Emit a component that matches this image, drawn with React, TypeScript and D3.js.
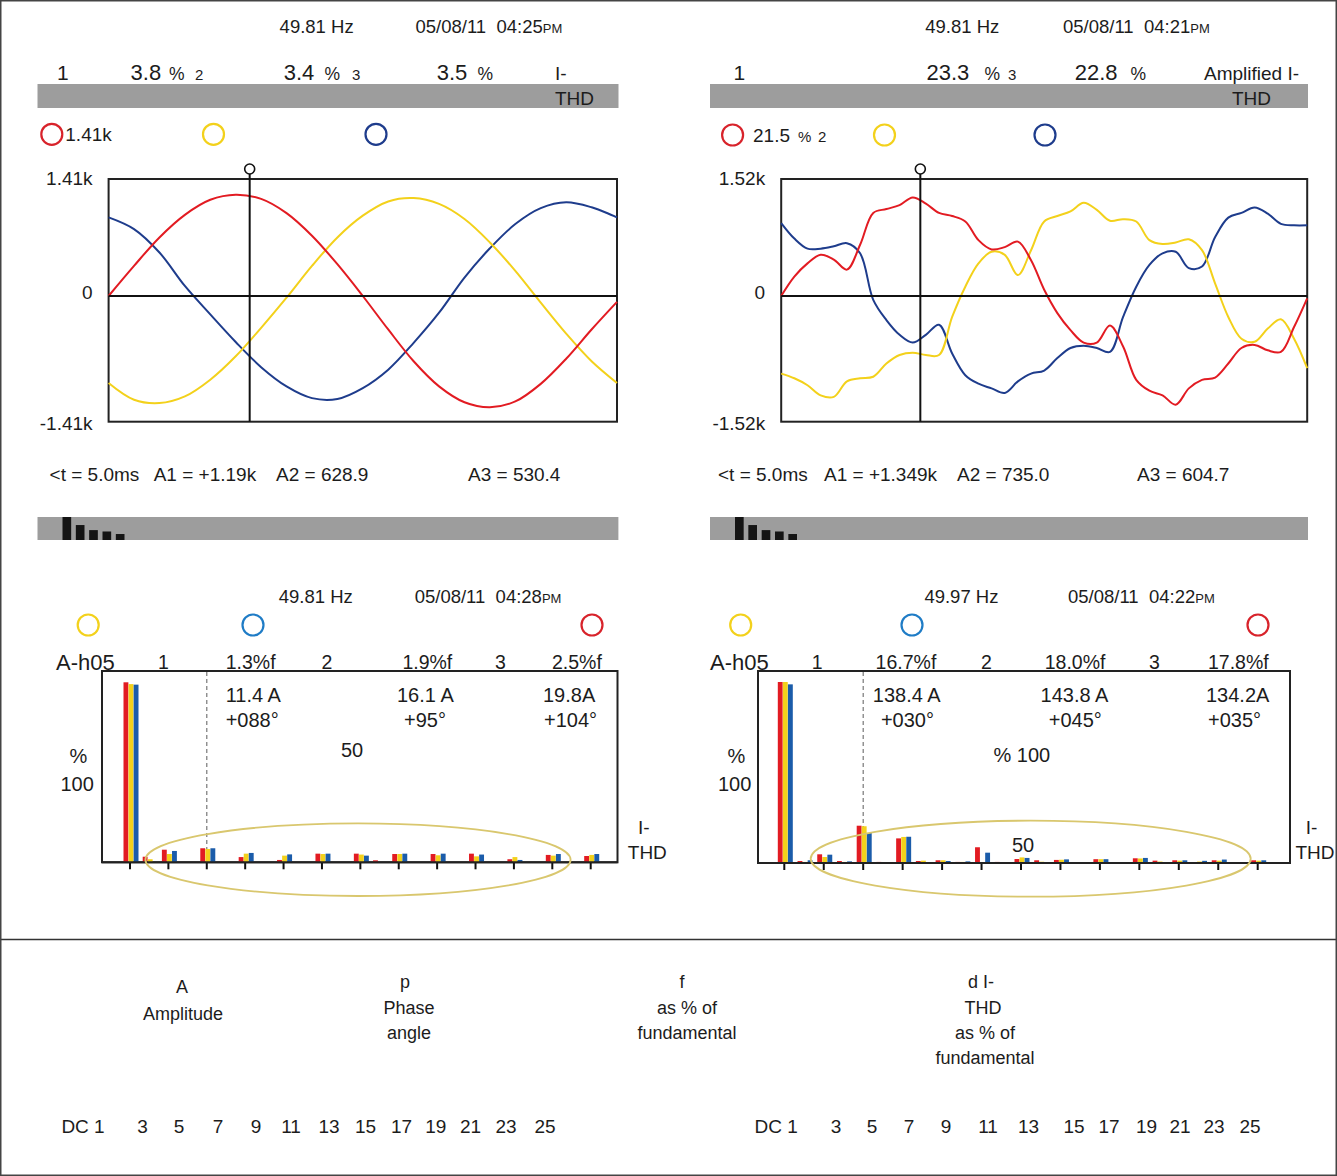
import * as d3 from "d3";
import { useEffect, useRef } from "react";

const FONT = "'Liberation Sans', Arial, Helvetica, sans-serif";

const RED = "#e21b22";
const YELLOW = "#f3d11b";
const NAVY = "#1e3c8c";
const BLUE = "#1b5caa";
const SKY = "#1f7cc6";
const RING_RED = "#d8232b";
const GRAY = "#9d9d9d";
const INK = "#1c1c1c";

// ---- scope A (clean supply), kA, one sample per ms over one 20 ms cycle
const timesA = [0, 1, 2, 3, 4, 5, 6, 7, 8, 9, 10, 11, 12, 13, 14, 15, 16, 17, 18, 19, 20];
const scopeARed = [0, 0.36, 0.7, 0.97, 1.15, 1.21, 1.16, 0.99, 0.72, 0.38, 0.0, -0.4, -0.78, -1.08, -1.27, -1.33, -1.26, -1.05, -0.75, -0.4, -0.07];
const scopeAYellow = [-1.04, -1.24, -1.28, -1.2, -1.0, -0.72, -0.38, -0.02, 0.36, 0.7, 0.96, 1.13, 1.17, 1.1, 0.92, 0.64, 0.3, -0.08, -0.45, -0.78, -1.04];
const scopeABlue = [0.94, 0.8, 0.52, 0.12, -0.22, -0.55, -0.85, -1.08, -1.22, -1.23, -1.1, -0.88, -0.56, -0.2, 0.22, 0.57, 0.86, 1.05, 1.12, 1.06, 0.94];

// ---- scope B (distorted supply), kA, one sample per 0.5 ms
const timesB = [0, 0.5, 1, 1.5, 2, 2.5, 3, 3.5, 4, 4.5, 5, 5.5, 6, 6.5, 7, 7.5, 8, 8.5, 9, 9.5, 10, 10.5, 11, 11.5, 12, 12.5, 13, 13.5, 14, 14.5, 15, 15.5, 16, 16.5, 17, 17.5, 18, 18.5, 19, 19.5, 20];
const scopeBRed = [0, 0.25, 0.42, 0.53, 0.47, 0.34, 0.66, 1.07, 1.12, 1.17, 1.27, 1.19, 1.07, 1.03, 0.96, 0.72, 0.6, 0.63, 0.7, 0.46, 0.08, -0.22, -0.44, -0.6, -0.6, -0.38, -0.65, -1.08, -1.22, -1.28, -1.4, -1.19, -1.08, -1.05, -0.87, -0.67, -0.63, -0.7, -0.72, -0.4, -0.03];
const scopeBYellow = [-1.0, -1.06, -1.15, -1.28, -1.3, -1.1, -1.06, -1.04, -0.87, -0.76, -0.73, -0.76, -0.76, -0.27, 0.12, 0.42, 0.57, 0.53, 0.27, 0.59, 0.96, 1.03, 1.09, 1.2, 1.11, 0.97, 0.99, 0.96, 0.72, 0.67, 0.69, 0.73, 0.59, 0.16, -0.27, -0.55, -0.59, -0.42, -0.3, -0.55, -0.93];
const scopeBBlue = [0.94, 0.74, 0.61, 0.61, 0.64, 0.68, 0.55, -0.05, -0.31, -0.5, -0.6, -0.5, -0.37, -0.74, -1.02, -1.13, -1.19, -1.25, -1.1, -1.0, -0.96, -0.8, -0.67, -0.64, -0.67, -0.72, -0.27, 0.12, 0.4, 0.55, 0.57, 0.36, 0.38, 0.76, 1.01, 1.07, 1.14, 1.06, 0.93, 0.91, 0.91];

// ---- harmonic spectra, % of fundamental, harmonics 1..25
const harmonics = d3.range(1, 26);
const specARed = [100, 3.1, 7.0, 0, 7.8, 0, 2.9, 0, 1.3, 0, 4.8, 0, 4.8, 1.1, 4.6, 0, 4.6, 0, 4.8, 0, 1.7, 0, 4.1, 0, 3.5];
const specAYellow = [99, 1.7, 4.6, 0, 7.4, 0, 4.8, 0, 3.7, 0, 4.6, 0, 4.3, 0, 4.6, 0, 3.9, 0, 3.3, 0, 2.9, 0, 3.7, 0, 4.1];
const specABlue = [98.7, 0, 6.3, 0, 7.8, 0, 5.2, 0, 4.4, 0, 4.8, 0, 3.7, 0, 4.8, 0, 4.8, 0, 4.3, 0, 1.3, 0, 4.6, 0, 4.6];
const specBRed = [100, 1.1, 4.8, 1.1, 20.6, 0.6, 13.6, 1.1, 1.5, 0.6, 8.7, 0.6, 2.2, 1.5, 1.7, 0, 2.1, 0, 2.6, 1.3, 1.5, 0.3, 1.5, 0, 1.5];
const specBYellow = [100, 0.6, 3.3, 0.6, 20.3, 0.4, 14.4, 1.3, 1.5, 0.6, 0, 0.2, 3.1, 0.7, 1.8, 0, 2.1, 0, 2.5, 0.8, 1.3, 0.8, 1.3, 0, 1.3];
const specBBlue = [98.7, 1.5, 4.6, 0.9, 16.6, 0.4, 14.5, 0.4, 1.1, 0.9, 5.7, 0.2, 2.8, 0, 2.0, 0, 2.1, 0, 2.8, 0, 1.5, 1.2, 1.9, 0, 1.5];
const markedHarmonic = 5;

// small bargraph icon in the status strip
const iconLevels = [100, 65, 43, 37, 26];

// harmonic order row under each spectrum
const orderLabels = ["3", "5", "7", "9", "11", "13", "15", "17", "19", "21", "23", "25"];
const orderXLeft = [142.6, 179, 218, 256, 291, 329, 365.5, 401.5, 435.7, 470.5, 506, 545];
const orderXRight = [836, 872, 909, 946, 988, 1028.6, 1074, 1109, 1146.5, 1180, 1214, 1250];

function txt(g: any, s: string, x: number, y: number, size: number, anchor = "start") {
	return g
		.append("text")
		.attr("x", x)
		.attr("y", y)
		.attr("font-size", size)
		.attr("text-anchor", anchor)
		.attr("fill", INK)
		.style("white-space", "pre")
		.text(s);
}

function stamp(g: any, hz: string, date: string, x1: number, x2: number, y: number) {
	txt(g, hz, x1, y, 18.5);
	const t = txt(g, date, x2, y, 18.5);
	t.append("tspan").attr("font-size", 13).text("PM");
}

function ring(g: any, cx: number, cy: number, color: string) {
	g.append("circle")
		.attr("cx", cx)
		.attr("cy", cy)
		.attr("r", 10.5)
		.attr("fill", "none")
		.attr("stroke", color)
		.attr("stroke-width", 2.2);
}

function statusStrip(g: any, x0: number, x1: number) {
	g.append("rect").attr("x", x0).attr("y", 517).attr("width", x1 - x0).attr("height", 23).attr("fill", GRAY);
	const bx = d3.scaleBand<number>().domain(d3.range(iconLevels.length)).range([x0 + 25, x0 + 87]).paddingInner(0.35);
	const by = d3.scaleLinear().domain([0, 100]).range([540, 517]);
	g.selectAll(null)
		.data(iconLevels)
		.enter()
		.append("rect")
		.attr("x", (_d: number, i: number) => bx(i))
		.attr("y", (d: number) => by(d))
		.attr("width", bx.bandwidth())
		.attr("height", (d: number) => 540 - by(d))
		.attr("fill", "#141414");
}

function drawScope(g: any, p: any) {
	const x = d3.scaleLinear().domain([0, 20]).range([p.x0, p.x1]);
	const y = d3.scaleLinear().domain([-p.full, p.full]).range([414, 178]);

	g.append("rect")
		.attr("x", p.x0)
		.attr("y", 179)
		.attr("width", p.x1 - p.x0)
		.attr("height", 421.7 - 179)
		.attr("fill", "none")
		.attr("stroke", "#222")
		.attr("stroke-width", 2);

	const traces = [
		[p.blue, NAVY],
		[p.yellow, YELLOW],
		[p.red, RED]
	];
	traces.forEach(([vals, color]: any) => {
		const line = d3
			.line<number>()
			.x((_d, i) => x(p.times[i]))
			.y((d) => y(d))
			.curve(d3.curveCatmullRom.alpha(0.5));
		g.append("path").attr("d", line(vals)).attr("fill", "none").attr("stroke", color).attr("stroke-width", 2);
	});

	g.append("line").attr("x1", p.x0).attr("x2", p.x1).attr("y1", y(0)).attr("y2", y(0)).attr("stroke", "#111").attr("stroke-width", 2);

	const cx = x(p.cursorT);
	g.append("line").attr("x1", cx).attr("x2", cx).attr("y1", 174).attr("y2", 421.7).attr("stroke", "#111").attr("stroke-width", 2);
	g.append("circle").attr("cx", cx).attr("cy", 169).attr("r", 5).attr("fill", "#fff").attr("stroke", "#111").attr("stroke-width", 1.6);

	const lab = p.full.toFixed(2) + "k";
	txt(g, lab, p.x0 - 16, 185, 19, "end");
	txt(g, "0", p.x0 - 16, 298.5, 19, "end");
	txt(g, "-" + lab, p.x0 - 16, 430, 19, "end");
}

function drawSpectrum(g: any, p: any) {
	const x = d3.scaleLinear().domain([1, 25]).range([p.h1, p.h25]);
	const y = d3.scaleLinear().domain([0, 100]).range([p.base, p.base - p.full]);
	const sub = d3.scaleBand<string>().domain(["r", "y", "b"]).range([-6.5, 8.5]).paddingInner(0.04);

	g.append("rect")
		.attr("x", p.x0)
		.attr("y", 671)
		.attr("width", p.x1 - p.x0)
		.attr("height", p.base - 671)
		.attr("fill", "none")
		.attr("stroke", "#222")
		.attr("stroke-width", 2);

	g.append("line")
		.attr("x1", x(markedHarmonic))
		.attr("x2", x(markedHarmonic))
		.attr("y1", 672)
		.attr("y2", p.base)
		.attr("stroke", "#777")
		.attr("stroke-width", 1.2)
		.attr("stroke-dasharray", "4,3");

	const series = [
		["r", p.red, RED],
		["y", p.yellow, YELLOW],
		["b", p.blue, BLUE]
	];
	series.forEach(([key, vals, color]: any) => {
		g.selectAll(null)
			.data(harmonics.map((h, i) => ({ h, v: vals[i] })).filter((d) => d.v > 0))
			.enter()
			.append("rect")
			.attr("x", (d: any) => x(d.h) + sub(key)!)
			.attr("y", (d: any) => y(d.v))
			.attr("width", sub.bandwidth())
			.attr("height", (d: any) => p.base - y(d.v))
			.attr("fill", color);
	});

	g.selectAll(null)
		.data(harmonics.filter((h) => h % 2 === 1))
		.enter()
		.append("line")
		.attr("x1", (d: number) => x(d))
		.attr("x2", (d: number) => x(d))
		.attr("y1", p.base)
		.attr("y2", p.base + 7)
		.attr("stroke", "#111")
		.attr("stroke-width", 2);

	g.append("line").attr("x1", p.x0).attr("x2", p.x1).attr("y1", p.base).attr("y2", p.base).attr("stroke", "#222").attr("stroke-width", 2);

	g.append("ellipse")
		.attr("cx", p.ecx)
		.attr("cy", p.ecy)
		.attr("rx", p.erx)
		.attr("ry", p.ery)
		.attr("fill", "none")
		.attr("stroke", "#d9c76e")
		.attr("stroke-width", 1.8);
}

function orderRow(g: any, xDc: number, xs: number[]) {
	txt(g, "DC 1", xDc, 1133, 19);
	orderLabels.forEach((s, i) => txt(g, s, xs[i], 1133, 19, "middle"));
}

function App() {
	const ref = useRef<SVGSVGElement>(null);

	useEffect(() => {
		const svg = d3.select(ref.current);
		svg.selectAll("*").remove();
		svg.append("rect").attr("width", 1337).attr("height", 1176).attr("fill", "#fff");
		const g = svg.append("g").attr("font-family", FONT);

		// ---------- top left: scope, clean currents
		stamp(g, "49.81 Hz", "05/08/11  04:25", 279.6, 415.5, 33.3);
		g.append("rect").attr("x", 37.5).attr("y", 84).attr("width", 581).attr("height", 24).attr("fill", GRAY);
		txt(g, "1", 57, 80, 21);
		txt(g, "3.8", 130.6, 80, 22);
		txt(g, "%", 169, 80, 17.5);
		txt(g, "2", 195, 80, 15);
		txt(g, "3.4", 283.7, 80, 22);
		txt(g, "%", 324.5, 80, 17.5);
		txt(g, "3", 352, 80, 15);
		txt(g, "3.5", 436.7, 80, 22);
		txt(g, "%", 477.5, 80, 17.5);
		txt(g, "I-", 555, 80, 19);
		txt(g, "THD", 555, 105, 19);
		ring(g, 51.8, 134.3, RING_RED);
		txt(g, "1.41k", 65.3, 140.5, 19);
		ring(g, 213.5, 134.3, YELLOW);
		ring(g, 376, 134.3, NAVY);
		drawScope(g, { x0: 108.6, x1: 617, full: 1.41, cursorT: 5.55, times: timesA, red: scopeARed, yellow: scopeAYellow, blue: scopeABlue });
		txt(g, "<t = 5.0ms", 49.6, 481, 19);
		txt(g, "A1 = +1.19k", 153.7, 481, 19);
		txt(g, "A2 = 628.9", 276, 481, 19);
		txt(g, "A3 = 530.4", 468, 481, 19);
		statusStrip(g, 37.5, 618.4);

		// ---------- top right: scope, distorted currents
		stamp(g, "49.81 Hz", "05/08/11  04:21", 925.3, 1063, 33.3);
		g.append("rect").attr("x", 710).attr("y", 84).attr("width", 598).attr("height", 24).attr("fill", GRAY);
		txt(g, "1", 733.5, 80, 21);
		txt(g, "23.3", 926.5, 80, 22);
		txt(g, "%", 984.5, 80, 17.5);
		txt(g, "3", 1008, 80, 15);
		txt(g, "22.8", 1074.7, 80, 22);
		txt(g, "%", 1130.6, 80, 17.5);
		txt(g, "Amplified I-", 1204, 80, 19);
		txt(g, "THD", 1232, 105, 19);
		ring(g, 732.6, 135, RING_RED);
		txt(g, "21.5", 753, 141.7, 19);
		txt(g, "%", 798, 141.7, 15);
		txt(g, "2", 818, 141.7, 15);
		ring(g, 884.5, 135, YELLOW);
		ring(g, 1045, 135, NAVY);
		drawScope(g, { x0: 781.2, x1: 1307.2, full: 1.52, cursorT: 5.29, times: timesB, red: scopeBRed, yellow: scopeBYellow, blue: scopeBBlue });
		txt(g, "<t = 5.0ms", 718, 481, 19);
		txt(g, "A1 = +1.349k", 824, 481, 19);
		txt(g, "A2 = 735.0", 957, 481, 19);
		txt(g, "A3 = 604.7", 1137, 481, 19);
		statusStrip(g, 710, 1308);

		// ---------- bottom left: harmonic spectrum, clean
		stamp(g, "49.81 Hz", "05/08/11  04:28", 278.8, 414.7, 602.7);
		ring(g, 88.2, 625, YELLOW);
		ring(g, 253, 625, SKY);
		ring(g, 592, 625, RING_RED);
		txt(g, "A-h05", 56, 670, 22);
		txt(g, "1", 158, 668.5, 19.5);
		txt(g, "1.3%f", 225.7, 669, 19.5);
		txt(g, "2", 321.6, 668.5, 19.5);
		txt(g, "1.9%f", 402.4, 669, 19.5);
		txt(g, "3", 495, 668.5, 19.5);
		txt(g, "2.5%f", 552, 669, 19.5);
		drawSpectrum(g, {
			x0: 102, x1: 617.5, base: 862.3, full: 180, h1: 130, h25: 590.7,
			red: specARed, yellow: specAYellow, blue: specABlue,
			ecx: 358, ecy: 859.7, erx: 212.6, ery: 36.3
		});
		txt(g, "11.4 A", 225.7, 701.7, 20);
		txt(g, "+088°", 225.7, 726.7, 20);
		txt(g, "16.1 A", 397, 701.7, 20);
		txt(g, "+95°", 404, 726.7, 20);
		txt(g, "19.8A", 543, 701.7, 20);
		txt(g, "+104°", 544, 726.7, 20);
		txt(g, "50", 341, 756.7, 20);
		txt(g, "%", 69.4, 763.3, 20);
		txt(g, "100", 60.4, 790.7, 20);
		txt(g, "I-", 638, 834, 19);
		txt(g, "THD", 627.8, 859.3, 19);

		// ---------- bottom right: harmonic spectrum, distorted
		stamp(g, "49.97 Hz", "05/08/11  04:22", 924.4, 1068, 602.7);
		ring(g, 740.7, 625, YELLOW);
		ring(g, 912, 625, SKY);
		ring(g, 1258, 625, RING_RED);
		txt(g, "A-h05", 710, 670, 22);
		txt(g, "1", 811.8, 668.5, 19.5);
		txt(g, "16.7%f", 875.6, 669, 19.5);
		txt(g, "2", 981, 668.5, 19.5);
		txt(g, "18.0%f", 1044.7, 669, 19.5);
		txt(g, "3", 1149, 668.5, 19.5);
		txt(g, "17.8%f", 1208, 669, 19.5);
		drawSpectrum(g, {
			x0: 758, x1: 1290, base: 863, full: 181, h1: 784.3, h25: 1257.7,
			red: specBRed, yellow: specBYellow, blue: specBBlue,
			ecx: 1030.7, ecy: 858.7, erx: 220, ery: 38
		});
		txt(g, "138.4 A", 872.8, 701.7, 20);
		txt(g, "+030°", 880.9, 726.7, 20);
		txt(g, "143.8 A", 1040.6, 701.7, 20);
		txt(g, "+045°", 1048.8, 726.7, 20);
		txt(g, "134.2A", 1206, 701.7, 20);
		txt(g, "+035°", 1208, 726.7, 20);
		txt(g, "% 100", 993.5, 761.7, 20);
		txt(g, "%", 727.6, 763.3, 20);
		txt(g, "100", 718, 790.7, 20);
		txt(g, "50", 1012, 851.7, 20);
		txt(g, "I-", 1305.7, 834, 19);
		txt(g, "THD", 1295.5, 859.3, 19);

		// ---------- key
		g.append("line").attr("x1", 0).attr("x2", 1337).attr("y1", 939.5).attr("y2", 939.5).attr("stroke", "#333").attr("stroke-width", 1.5);
		txt(g, "A", 182, 993.3, 18, "middle");
		txt(g, "Amplitude", 183, 1020, 18, "middle");
		txt(g, "p", 405, 988, 18, "middle");
		txt(g, "Phase", 409, 1014, 18, "middle");
		txt(g, "angle", 409, 1039, 18, "middle");
		txt(g, "f", 682, 988, 18, "middle");
		txt(g, "as % of", 687, 1014, 18, "middle");
		txt(g, "fundamental", 687, 1039, 18, "middle");
		txt(g, "d I-", 981, 988, 18, "middle");
		txt(g, "THD", 983, 1014, 18, "middle");
		txt(g, "as % of", 985, 1039, 18, "middle");
		txt(g, "fundamental", 985, 1064, 18, "middle");
		orderRow(g, 61.4, orderXLeft);
		orderRow(g, 754.5, orderXRight);

		svg.append("rect")
			.attr("x", 0.75)
			.attr("y", 0.75)
			.attr("width", 1335.5)
			.attr("height", 1174.5)
			.attr("fill", "none")
			.attr("stroke", "#444")
			.attr("stroke-width", 1.5);
	}, []);

	return (
		<svg
			ref={ref}
			width={1337}
			height={1176}
			style={{ position: "absolute", left: 0, top: 0, display: "block" }}
		/>
	);
}

export default App;
